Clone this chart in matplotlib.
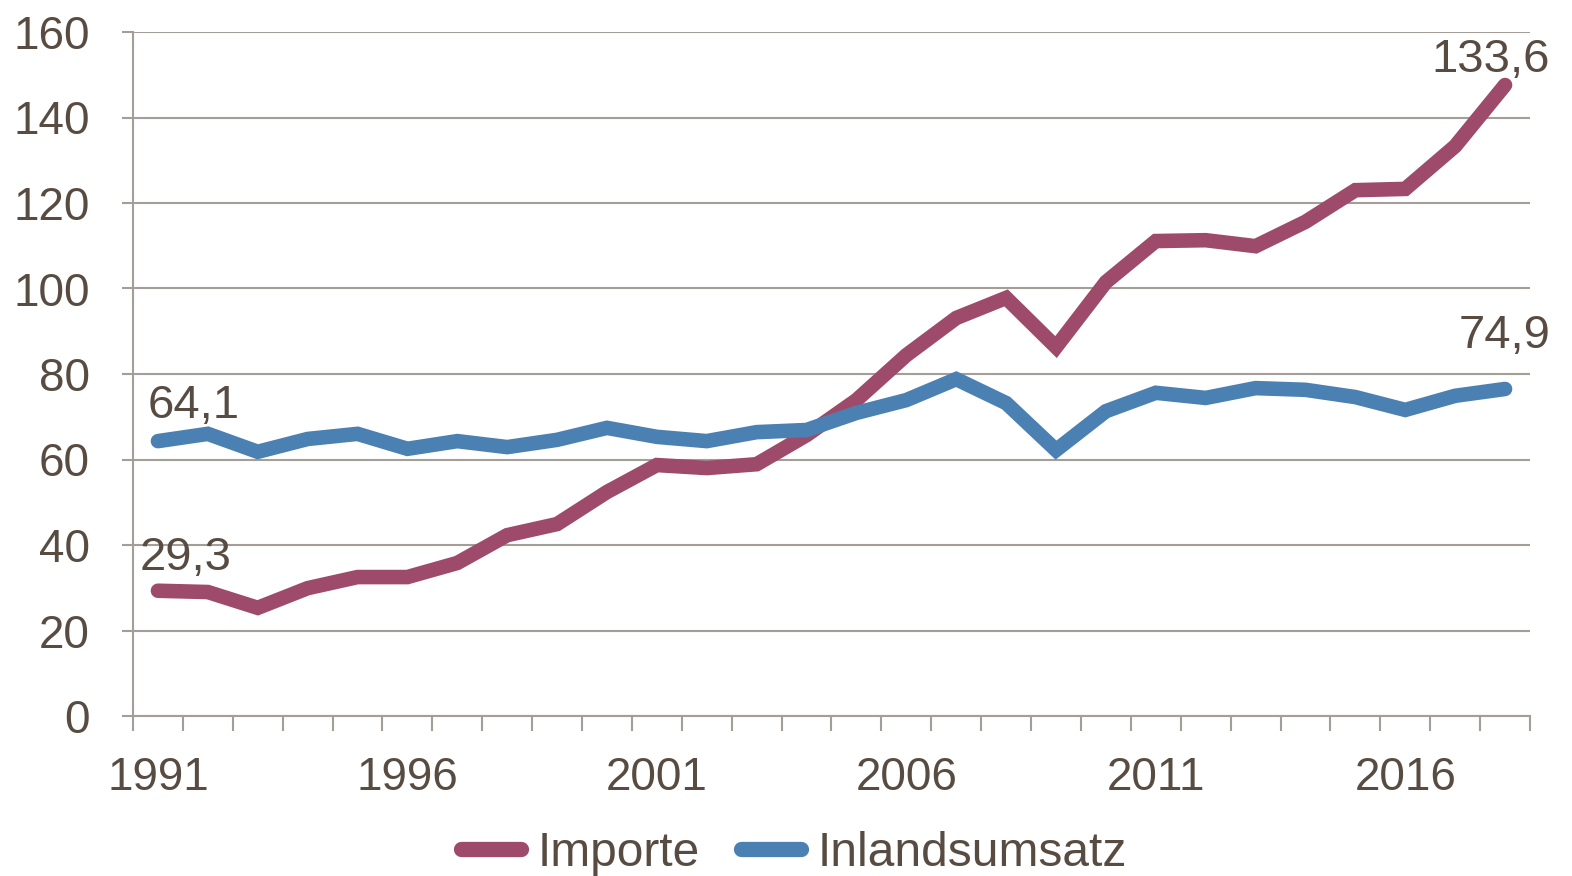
import numpy as np
import matplotlib
matplotlib.use('Agg')
import matplotlib.pyplot as plt

# Data
years = list(range(1991, 2019))
importe = [29.3, 29.0, 25.3, 29.9, 32.5, 32.5, 35.8, 42.3, 44.9, 52.4,
           58.7, 58.0, 58.9, 65.7, 73.9, 84.4, 93.1, 97.8, 86.3, 101.5,
           111.1, 111.3, 109.9, 115.6, 123.0, 123.3, 133.3, 147.6]
inland = [64.3, 66.0, 61.8, 64.8, 66.0, 62.5, 64.3, 62.9, 64.6, 67.4,
          65.3, 64.3, 66.4, 66.9, 70.9, 73.9, 78.8, 73.2, 62.2, 71.3,
          75.6, 74.4, 76.7, 76.3, 74.6, 71.6, 74.9, 76.5]
series_names = ['Importe', 'Inlandsumsatz']
year_labels = ['1991', '1996', '2001', '2006', '2011', '2016']
point_labels = {'Importe': ['29,3', '133,6'], 'Inlandsumsatz': ['64,1', '74,9']}

plt.rcParams['font.family'] = ['Liberation Sans', 'DejaVu Sans']
text_col = '#584c42'
grid_col = '#a39e98'
col_imp = '#9e4a6a'
col_inl = '#4b80b3'

fig = plt.figure(figsize=(15.72, 8.76), dpi=100)
ax = fig.add_axes([133 / 1572, 1 - 716 / 876, (1530 - 133) / 1572, (716 - 32) / 876])

x = np.arange(len(years))
ax.plot(x, importe, color=col_imp, lw=10.5, solid_capstyle='round', solid_joinstyle='miter',
        label=series_names[0], zorder=3)
ax.plot(x, inland, color=col_inl, lw=10.5, solid_capstyle='round', solid_joinstyle='miter',
        label=series_names[1], zorder=3)

ax.set_xlim(-0.5, len(years) - 0.5)
ax.set_ylim(0, 160)
ax.set_yticks(range(0, 161, 20))
ax.grid(axis='y', color=grid_col, lw=1.5)
ax.set_axisbelow(True)

# category boundary ticks, labels every 5 years
ax.set_xticks(np.arange(-0.5, len(years), 1.0))
ax.set_xticklabels([])
ax.set_xticks([years.index(int(y)) for y in year_labels], minor=True)
ax.set_xticklabels(year_labels, minor=True)
ax.tick_params(axis='x', which='major', length=11, width=1.5, color=grid_col)
ax.tick_params(axis='x', which='minor', length=0, pad=29, labelsize=33, labelcolor=text_col)
ax.tick_params(axis='y', length=8, width=1.5, color=grid_col, pad=23,
               labelsize=33, labelcolor=text_col)

for s in ['top', 'right']:
    ax.spines[s].set_visible(False)
for s in ['left', 'bottom']:
    ax.spines[s].set_color(grid_col)
    ax.spines[s].set_linewidth(1.5)

# end point labels
def lab(i, vals, txt, dx, dy):
    ax.annotate(txt, (x[i], vals[i]), xytext=(dx, dy), textcoords='offset pixels',
                ha='center', va='baseline', fontsize=34, color=text_col, zorder=4)

lab(0, importe, point_labels['Importe'][0], 28, 21)
lab(-1, importe, point_labels['Importe'][1], -14, 13)
lab(0, inland, point_labels['Inlandsumsatz'][0], 36, 23)
lab(-1, inland, point_labels['Inlandsumsatz'][1], 0, 41)

leg = fig.legend(loc='center', bbox_to_anchor=(0.505, 0.026), ncol=2, frameon=False,
                 fontsize=34.5, handlelength=1.25, handletextpad=0.35, columnspacing=0.85,
                 borderpad=0, labelcolor=text_col)
for h in leg.get_lines():
    h.set_linewidth(11)

fig.savefig('out.png', dpi=100)
